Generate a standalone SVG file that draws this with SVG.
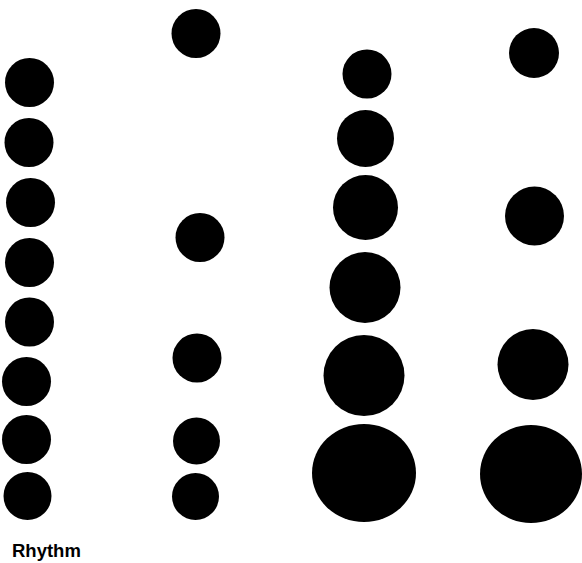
<svg xmlns="http://www.w3.org/2000/svg" width="582" height="563" viewBox="0 0 582 563">
<style>
circle, ellipse { fill: #000; }
text { font-family: "Liberation Sans", Arial, sans-serif; font-weight: bold; font-size: 18.5px; fill: #000; }
</style>
<rect width="582" height="563" fill="#fff"/>
<g id="col1">
<circle cx="29.5" cy="82.5" r="24.5"/>
<circle cx="29" cy="142.5" r="24.5"/>
<circle cx="30.5" cy="202.5" r="24.5"/>
<circle cx="29.5" cy="262.5" r="24.5"/>
<circle cx="29.5" cy="322" r="24.5"/>
<circle cx="26.5" cy="381.5" r="24.5"/>
<circle cx="26.5" cy="439.5" r="24.5"/>
<circle cx="27.5" cy="496" r="24"/>
</g>
<g id="col2">
<circle cx="196" cy="33.5" r="24.5"/>
<circle cx="200" cy="237.5" r="24.5"/>
<circle cx="197" cy="358" r="24.5"/>
<circle cx="196.5" cy="441" r="23.5"/>
<circle cx="195.5" cy="496.5" r="23.5"/>
</g>
<g id="col3">
<circle cx="367" cy="74" r="24.5"/>
<circle cx="365.5" cy="138.5" r="28.5"/>
<circle cx="365.5" cy="207.5" r="32.5"/>
<circle cx="365" cy="287.5" r="35.5"/>
<circle cx="364" cy="375.5" r="40.5"/>
<ellipse cx="364" cy="473" rx="52" ry="49"/>
</g>
<g id="col4">
<circle cx="534" cy="53" r="25"/>
<circle cx="534.5" cy="216" r="29.5"/>
<circle cx="533" cy="364.5" r="35.5"/>
<ellipse cx="531" cy="474" rx="51" ry="49"/>
</g>
<text x="12" y="557">Rhythm</text>
</svg>
